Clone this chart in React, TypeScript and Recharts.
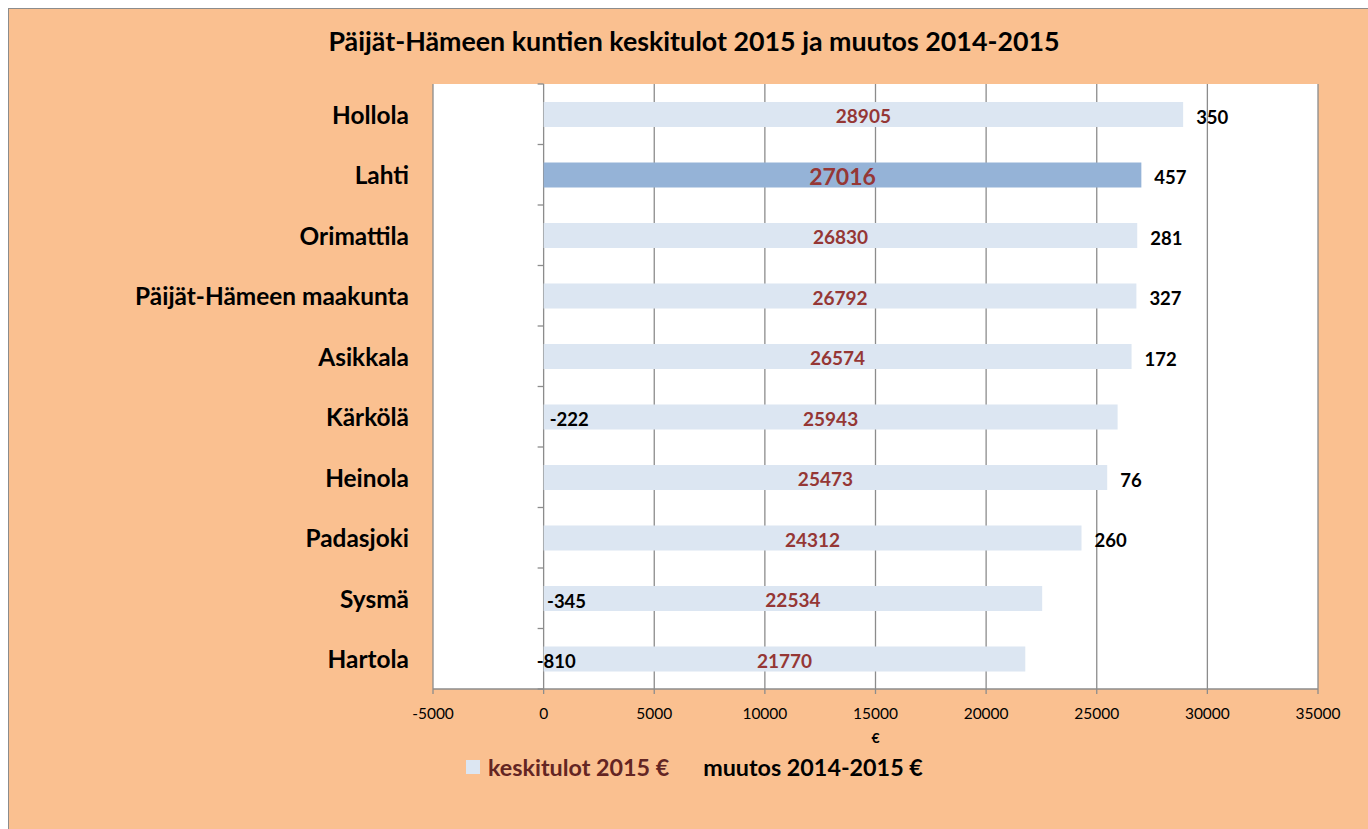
import React from "react";
import {
  BarChart,
  Bar,
  XAxis,
  YAxis,
  CartesianGrid,
  Cell,
  LabelList,
  Label,
} from "recharts";

const municipalities = [
  "Hollola",
  "Lahti",
  "Orimattila",
  "Päijät-Hämeen maakunta",
  "Asikkala",
  "Kärkölä",
  "Heinola",
  "Padasjoki",
  "Sysmä",
  "Hartola",
];
const income2015 = [28905, 27016, 26830, 26792, 26574, 25943, 25473, 24312, 22534, 21770];
const change20142015 = [350, 457, 281, 327, 172, -222, 76, 260, -345, -810];
const xTicks = [-5000, 0, 5000, 10000, 15000, 20000, 25000, 30000, 35000];
const highlighted = "Lahti";

const data = municipalities.map((name, i) => ({
  name,
  keskitulot: income2015[i],
  muutos: change20142015[i],
}));

const FONT = "Lato, 'Open Sans', sans-serif";
const W = 1368;
const H = 829;
const X_AXIS_H = 40;
const M = { top: 84, right: 50, bottom: 140 - X_AXIS_H, left: 0 };
const Y_AXIS_W = 433;
const PLOT_H = H - M.top - M.bottom - X_AXIS_H;
const PLOT_W = W - M.right - Y_AXIS_W;
const GRID = "#8c8c8c";
const zeroX = Y_AXIS_W + ((0 - xTicks[0]) / (xTicks[xTicks.length - 1] - xTicks[0])) * PLOT_W;
const band = PLOT_H / municipalities.length;

const CategoryTick = (props: any) => {
  const { x, y, payload, index } = props;
  const isLast = index === municipalities.length - 1;
  return (
    <g>
      <text
        x={x}
        y={y}
        textAnchor="end"
        dominantBaseline="central"
        fontFamily={FONT}
        fontWeight={700}
        fontSize={24.4}
        fill="#000"
      >
        {payload.value}
      </text>
      <line x1={zeroX - 6} x2={zeroX} y1={y - band / 2} y2={y - band / 2} stroke={GRID} strokeWidth={1.3} />
      {isLast && (
        <line x1={zeroX - 6} x2={zeroX} y1={y + band / 2} y2={y + band / 2} stroke={GRID} strokeWidth={1.3} />
      )}
    </g>
  );
};

const IncomeLabel = (props: any) => {
  const { x, y, width, height, value, index } = props;
  const big = municipalities[index] === highlighted;
  return (
    <text
      x={x + width / 2}
      y={y + height / 2 + 1}
      textAnchor="middle"
      dominantBaseline="central"
      fontFamily={FONT}
      fontWeight={700}
      fontSize={big ? 23 : 19}
      fill="#953735"
    >
      {value}
    </text>
  );
};

const ChangeLabel = (props: any) => {
  const { x, y, width, height, value, index } = props;
  const k = width / income2015[index];
  const tx = value >= 0 ? x + width + 13 : x + value * k + 11;
  return (
    <text
      x={tx}
      y={y + height / 2 + 2}
      textAnchor="start"
      dominantBaseline="central"
      fontFamily={FONT}
      fontWeight={700}
      fontSize={18.5}
      fill="#000"
    >
      {value}
    </text>
  );
};

export default function App() {
  return (
    <div>
      <div
        style={{
          position: "fixed",
          left: 8,
          top: 8,
          width: W - 8,
          height: H - 8,
          background: "#FAC090",
          borderLeft: "1.5px solid #8c8c8c",
          borderTop: "1.5px solid #8c8c8c",
          boxSizing: "border-box",
        }}
      />
      <div
        style={{
          position: "fixed",
          left: 694,
          top: 23,
          transform: "translateX(-50%)",
          whiteSpace: "nowrap",
          fontFamily: FONT,
          fontWeight: 700,
          fontSize: 26.8,
          lineHeight: "36px",
          color: "#000",
        }}
      >
        Päijät-Hämeen kuntien keskitulot 2015 ja muutos 2014-2015
      </div>
      <div style={{ position: "fixed", left: 0, top: 0 }}>
        <BarChart
          width={W}
          height={H}
          data={data}
          layout="vertical"
          margin={M}
          barSize={25}
        >
          <CartesianGrid horizontal={false} vertical={true} stroke={GRID} strokeWidth={1.3} fill="#fff" />
          <XAxis
            type="number"
            domain={[xTicks[0], xTicks[xTicks.length - 1]]}
            ticks={xTicks}
            interval={0}
            axisLine={{ stroke: GRID, strokeWidth: 1.3 }}
            tickLine={{ stroke: GRID, strokeWidth: 1.3 }}
            tickSize={5}
            tickMargin={14}
            tick={{ fontFamily: FONT, fontSize: 15.5, fill: "#000" }}
            height={X_AXIS_H}
          >
            <Label
              value="€"
              position="bottom"
              offset={4}
              style={{ fontFamily: FONT, fontSize: 14, fontWeight: 700, fill: "#000" }}
            />
          </XAxis>
          <YAxis
            type="category"
            dataKey="name"
            width={Y_AXIS_W}
            axisLine={false}
            tickLine={false}
            tickSize={0}
            tickMargin={24}
            interval={0}
            tick={<CategoryTick />}
          />
          <Bar dataKey="keskitulot" isAnimationActive={false}>
            {data.map((d) => (
              <Cell key={d.name} fill={d.name === highlighted ? "#95B3D7" : "#DCE6F2"} />
            ))}
            <LabelList dataKey="keskitulot" content={<IncomeLabel />} />
            <LabelList dataKey="muutos" content={<ChangeLabel />} />
          </Bar>
        </BarChart>
      </div>
      <div
        style={{
          position: "fixed",
          left: 466,
          top: 752,
          display: "flex",
          alignItems: "center",
          fontFamily: FONT,
          fontWeight: 700,
          fontSize: 23.3,
          lineHeight: "30px",
          whiteSpace: "nowrap",
        }}
      >
        <span style={{ display: "inline-block", width: 14, height: 14, background: "#DCE6F2", marginRight: 8 }} />
        <span style={{ color: "#632523" }}>keskitulot 2015 €</span>
        <span style={{ color: "#000", marginLeft: 34 }}>muutos 2014-2015 €</span>
      </div>
    </div>
  );
}
